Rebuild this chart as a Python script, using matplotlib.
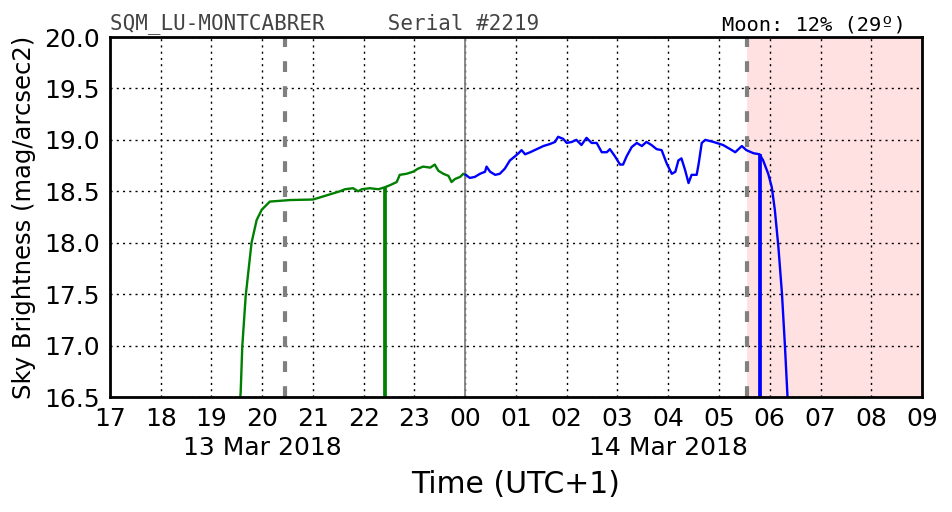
import matplotlib
matplotlib.use("Agg")
import matplotlib.pyplot as plt
import matplotlib.transforms as mtransforms

# hours since 00:00 on 13 Mar 2018 (UTC+1)
green_t = [19.55, 19.575, 19.607, 19.674, 19.745, 19.79, 19.89, 19.99, 20.15, 20.55,
           21.0, 21.2, 21.53, 21.63, 21.79, 21.89, 21.96, 22.12, 22.29, 22.42,
           22.52, 22.65, 22.71, 22.84, 22.97, 23.07, 23.17, 23.31, 23.40, 23.47,
           23.57, 23.67, 23.73, 23.80, 23.90, 23.96, 24.01]
green_m = [16.40, 16.54, 16.99, 17.48, 17.80, 18.00, 18.22, 18.32, 18.40, 18.415,
           18.42, 18.45, 18.50, 18.52, 18.53, 18.50, 18.52, 18.53, 18.52, 18.54,
           18.56, 18.59, 18.66, 18.67, 18.69, 18.72, 18.74, 18.73, 18.76, 18.70,
           18.67, 18.65, 18.59, 18.62, 18.64, 18.67, 18.66]

blue_t = [24.01, 24.09, 24.19, 24.29, 24.39, 24.42, 24.49, 24.59, 24.68, 24.78,
          24.88, 24.98, 25.05, 25.11, 25.18, 25.28, 25.41, 25.54, 25.67, 25.77,
          25.83, 25.93, 26.0, 26.1, 26.19, 26.29, 26.39, 26.49, 26.59, 26.69,
          26.79, 26.85, 26.95, 27.05, 27.11, 27.18, 27.28, 27.38, 27.48, 27.57,
          27.67, 27.77, 27.87, 27.97, 28.07, 28.14, 28.2, 28.26, 28.33, 28.4,
          28.46, 28.56, 28.6, 28.66, 28.73, 28.89, 29.08, 29.22, 29.32, 29.45,
          29.54, 29.68, 29.80, 29.87, 29.97, 30.04, 30.1, 30.17, 30.24, 30.3,
          30.35, 30.37]
blue_m = [18.66, 18.63, 18.64, 18.67, 18.69, 18.74, 18.69, 18.66, 18.67, 18.72,
          18.80, 18.84, 18.87, 18.90, 18.86, 18.88, 18.91, 18.94, 18.96, 18.98,
          19.03, 19.01, 18.97, 18.98, 19.00, 18.95, 19.02, 18.97, 18.97, 18.88,
          18.88, 18.91, 18.84, 18.76, 18.76, 18.84, 18.93, 18.97, 18.94, 18.98,
          18.95, 18.91, 18.90, 18.77, 18.67, 18.69, 18.80, 18.82, 18.71, 18.58,
          18.66, 18.66, 18.77, 18.97, 19.00, 18.98, 18.95, 18.91, 18.88, 18.94,
          18.90, 18.87, 18.86, 18.80, 18.67, 18.54, 18.32, 17.96, 17.51, 16.99,
          16.50, 16.30]

# vertical markers: (hour, top magnitude)
green_mark = (22.42, 18.54)
blue_mark = (29.81, 18.86)
twilight = [20.45, 29.55]   # dashed lines
midnight = 24.0
moon_start = 29.56

hour_ticks = list(range(17, 34))
hour_labels = ["%02d" % (h % 24) for h in hour_ticks]
date_pos = [20, 28]
date_labels = ["13 Mar 2018", "14 Mar 2018"]
y_ticks = [16.5, 17.0, 17.5, 18.0, 18.5, 19.0, 19.5, 20.0]

fig = plt.figure(figsize=(9.52, 5.12), dpi=100)
ax = fig.add_axes([0.1155, 0.2246, 0.853, 0.7031])

ax.axvspan(moon_start, 34, color="#ffe1e1", zorder=0, lw=0)
for t in twilight:
    ax.axvline(t, color="gray", lw=3, ls=(0, (2.6, 3.4)), zorder=3)
ax.axvline(midnight, color="gray", lw=1.3, zorder=3)

ax.plot(green_t, green_m, color="green", lw=1.7, zorder=4)
ax.plot(blue_t, blue_m, color="blue", lw=1.7, zorder=4)
ax.vlines(green_mark[0], 16.3, green_mark[1], color="green", lw=2.7, zorder=4)
ax.vlines(blue_mark[0], 16.3, blue_mark[1], color="blue", lw=2.7, zorder=4)

ax.set_xlim(17, 33)
ax.set_ylim(16.5, 20.0)
ax.set_xticks(hour_ticks)
ax.set_xticklabels(hour_labels)
ax.set_yticks(y_ticks)
ax.set_yticklabels(["%.1f" % v for v in y_ticks])
ax.tick_params(length=0, labelsize=18, pad=7)
ax.grid(True, color="k", ls=(0, (1.5, 3)), lw=1)
for s in ax.spines.values():
    s.set_linewidth(2)
    s.set_zorder(5)

trans = mtransforms.blended_transform_factory(ax.transData, ax.transAxes)
for p, lab in zip(date_pos, date_labels):
    ax.text(p, -0.142, lab, transform=trans, ha="center", va="center", fontsize=18)

ax.set_xlabel("Time (UTC+1)", fontsize=21.5, labelpad=28)
ax.set_ylabel("Sky Brightness (mag/arcsec2)", fontsize=17.5, labelpad=6)

ax.text(0.0, 1.007, "SQM_LU-MONTCABRER     Serial #2219", transform=ax.transAxes,
        family="DejaVu Sans Mono", fontsize=15, color="#444444", va="bottom")
ax.text(0.98, 1.007, "Moon: 12% (29\u00ba)", transform=ax.transAxes,
        family="DejaVu Sans Mono", fontsize=14.7, color="black", va="bottom", ha="right")

fig.savefig("out.png", dpi=100)
